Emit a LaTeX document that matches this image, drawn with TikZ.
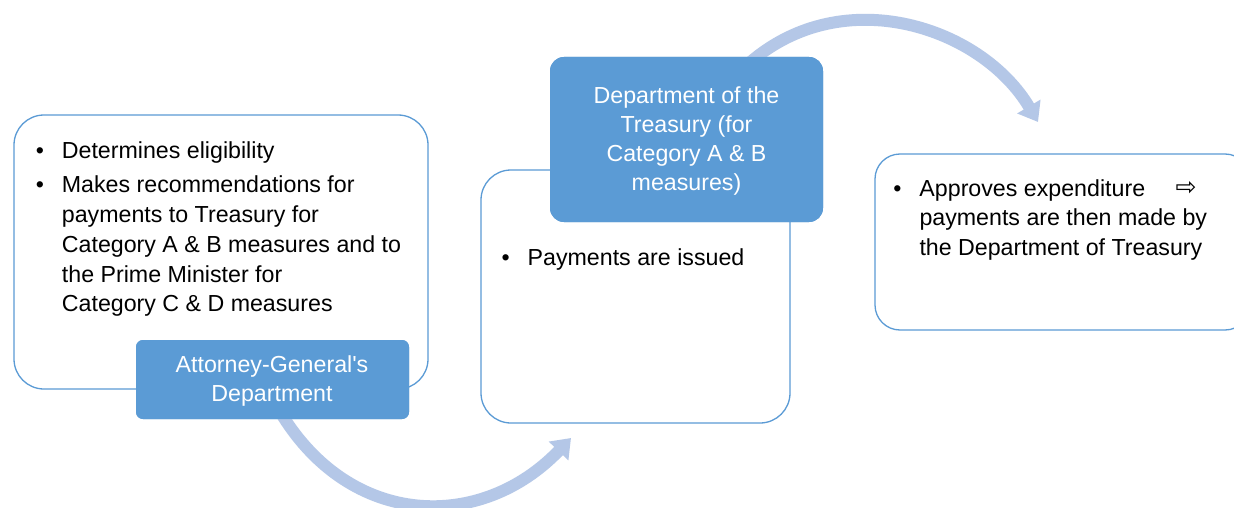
\documentclass[tikz,border=0pt]{standalone}
\usepackage{fontspec}
\setmainfont{Liberation Sans}
\newfontfamily\dejavu{DejaVu Sans}
\usetikzlibrary{arrows.meta}
\definecolor{lblue}{HTML}{5B9BD5}
\definecolor{arrowblue}{HTML}{B4C7E7}
\newcommand\bul{\leavevmode\llap{\textbullet\hspace{18pt}}}
\begin{document}
\begin{tikzpicture}[x=1pt,y=-1pt,
  box/.style={draw=lblue, line width=1.3pt, fill=white, inner sep=0pt},
  lbl/.style={fill=lblue, draw=none, inner sep=0pt},
  lbltext/.style={anchor=base, align=center, inner sep=0pt, text=white,
    font=\fontsize{23.2}{29}\selectfont},
  txt/.style={anchor=base west, align=left, inner sep=0pt,
    font=\fontsize{23.2}{29.7}\selectfont},
  flow/.style={draw=arrowblue, line width=12pt,
    -{Triangle[width=26pt,length=18pt]}}]
\useasboundingbox (0,0) rectangle (1234,508);
\fill[white] (0,0) rectangle (1234,508);

% boxes
\node[box, rounded corners=30pt, minimum width=414pt, minimum height=274pt] (agdbox) at (221,252) {};
\node[box, rounded corners=30pt, minimum width=309pt, minimum height=253pt] (paybox) at (635.5,296.5) {};
\node[box, rounded corners=25pt, minimum width=375pt, minimum height=176pt] (pmbox) at (1062.5,242) {};

% connector end points
\coordinate (tip1) at (571,438);
\coordinate (tip2) at (1038,122);

% labels (placed first so the connectors can start from them)
\node[lbl, rounded corners=7pt, minimum width=273pt, minimum height=79pt] (agd) at (272.5,379.5) {};
\node[lbl, rounded corners=14pt, minimum width=273pt, minimum height=165pt] (treas) at (686.5,139.5) {};

\draw[flow] ([xshift=8.5pt,yshift=6pt]agd.south) .. controls +(70,115) and +(-90,94) .. (tip1);
\draw[flow] ([xshift=63pt,yshift=-6pt]treas.north) .. controls +(94.5,-82) and +(-56,-94.6) .. (tip2);

% labels again on top of the connector starts
\node[lbl, rounded corners=7pt, minimum width=273pt, minimum height=79pt] (agdtop) at (agd) {};
\node[lbl, rounded corners=14pt, minimum width=273pt, minimum height=165pt] (treastop) at (treas) {};

\node[lbltext] (agdtext) at (272,401.7) {Attorney-General\textquotesingle s\\Department};
\node[lbltext] (treastext) at (686.5,190.7) {Department of the\\Treasury (for\\Category A \& B\\measures)};

% box texts (base anchor = last line's baseline)
\node[txt] (agdlist) at (61.7,311.7) {\bul Determines eligibility\\[4.3pt]\bul Makes recommendations for\\payments to Treasury for\\Category A \& B measures and to\\the Prime Minister for\\Category C \& D measures};
\node[txt] (paylist) at (527.5,265) {\bul Payments are issued};
\node[txt] (pmlist) at (919.3,255.5) {\bul Approves expenditure\\payments are then made by\\the Department of Treasury};
\node[inner sep=0pt, font=\dejavu\fontsize{25}{25}\selectfont] (pmarrow) at (1186,188) {⇨};
\end{tikzpicture}
\end{document}
